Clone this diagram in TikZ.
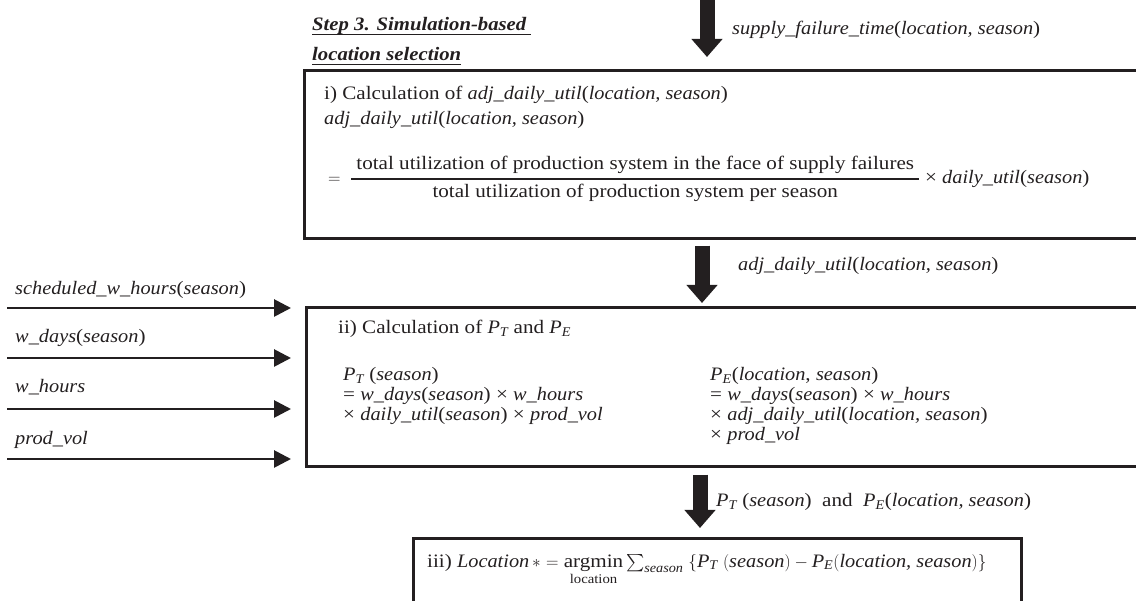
\documentclass[tikz,border=0pt]{standalone}
\usepackage{amsmath}
\usepackage{fontspec}
\setmainfont{Liberation Serif}[UprightFeatures={FakeStretch=1.11},
  ItalicFeatures={FakeStretch=1.07},
  BoldItalicFeatures={FakeStretch=1.09}]
\usepackage{tikz}
\usetikzlibrary{arrows.meta}
\usetikzlibrary{positioning}
\usetikzlibrary{calc}
\definecolor{inkk}{HTML}{231F20}
\newcommand{\Pt}{\textit{P}\ensuremath{_{\textit{T}}}}
\newcommand{\Pe}{\textit{P}\ensuremath{_{\textit{E}}}}
\newcommand{\stepul}[1]{\setbox0\hbox{#1}\rlap{\rule[-5pt]{\wd0}{1.5pt}}\box0}
\tikzset{
  txt_n/.style = {font=\fontsize{19}{20}\selectfont, inner sep=0pt,
    text=inkk},% texte normal
  lbl/.style = {txt_n, anchor=west},% etiquette
  col/.style = {txt_n, anchor=north west, align=left},% colonne de formules
  box_b/.style = {rectangle, draw=inkk, line width=2.6pt, inner sep=0pt,
    anchor=north west},% boite
  arr_big/.style = {draw=inkk, line width=15pt,
    -{Triangle[width=30pt,length=18pt]}},% grosse fleche
  arr_in/.style = {draw=inkk, line width=2.8pt,
    -{Triangle[width=17pt,length=17pt]}}% fleche d'entree
}

\begin{document}
\begin{tikzpicture}[x=1pt,y=-1pt]
\useasboundingbox (0,0) rectangle (1136,601);
\clip (0,0) rectangle (1136,601);

\node[box_b, minimum width=860pt, minimum height=168pt] (calc) at (303,69) {};
\node[box_b, minimum width=860pt, minimum height=159pt] (pcalc) at (305,306) {};
\node[box_b, minimum width=608pt, minimum height=90pt] (sel) at (412,537) {};

\node[col, font=\fontsize{19}{30}\selectfont\bfseries\itshape] (step) at (312,17)
  {\stepul{Step 3. Simulation-based\ }\\ \stepul{location selection}};

% entree du haut
\coordinate (topin) at (707,0);
\draw[arr_big, shorten >=12pt] (topin) -- (topin |- calc.north);
\node[lbl] (sfail) at (732,30) {\textit{supply\_failure\_time}(\textit{location, season})};

% i)
\node[lbl] (ititle) at (324,95) {i) Calculation of \textit{adj\_daily\_util}(\textit{location, season})};
\node[lbl] (adjdef) at (324,120) {\textit{adj\_daily\_util}(\textit{location, season})};
\node[lbl] (adjeq) at (328,179) {$=\;\genfrac{}{}{1.4pt}{0}{\kern5pt\text{total utilization of production system in the face of supply failures}\kern5pt}{\text{total utilization of production system per season}}\;\text{× \textit{daily\_util}(\textit{season})}$};

\coordinate (midx) at (702,0);
\draw[arr_big, shorten <=6pt, shorten >=3pt] (midx |- calc.south) -- (midx |- pcalc.north);
\node[lbl] (adjout) at (738,266) {\textit{adj\_daily\_util}(\textit{location, season})};

% entrees de gauche
\node[lbl] (sched) at (15,290) {\textit{scheduled\_w\_hours}(\textit{season})};
\coordinate (schedin) at (7,308);
\draw[arr_in, shorten >=14pt] (schedin) -- (schedin -| pcalc.west);
\node[lbl] (wdays) at (15,338) {\textit{w\_days}(\textit{season})};
\coordinate (wdaysin) at (7,358);
\draw[arr_in, shorten >=14pt] (wdaysin) -- (wdaysin -| pcalc.west);
\node[lbl] (whours) at (15,387) {\textit{w\_hours}};
\coordinate (whoursin) at (7,409);
\draw[arr_in, shorten >=14pt] (whoursin) -- (whoursin -| pcalc.west);
\node[lbl] (pvol) at (15,440) {\textit{prod\_vol}};
\coordinate (pvolin) at (7,459);
\draw[arr_in, shorten >=14pt] (pvolin) -- (pvolin -| pcalc.west);

% ii)
\node[lbl] (iititle) at (338,329) {ii) Calculation of \Pt\ and \Pe};
\node[col] (ptcol) at (343,367) {\Pt\ (\textit{season})\\
  = \textit{w\_days}(\textit{season}) × \textit{w\_hours}\\
  × \textit{daily\_util}(\textit{season}) × \textit{prod\_vol}};
\node[col] (pecol) at (710,367) {\Pe(\textit{location},\ \textit{season})\\
  = \textit{w\_days}(\textit{season}) × \textit{w\_hours}\\
  × \textit{adj\_daily\_util}(\textit{location, season})\\
  × \textit{prod\_vol}};

\coordinate (botx) at (700,0);
\draw[arr_big, shorten <=7pt, shorten >=9pt] (botx |- pcalc.south) -- (botx |- sel.north);
\node[lbl] (ptpe) at (716,502) {\Pt\ (\textit{season})~ and~ \Pe(\textit{location,~season})};

% iii)
\node[txt_n, anchor=base west] (argm) at (427,567) {iii) \textit{Location}$\,*$ $=$ $\mathop{\text{argmin}}\limits_{\text{location}} \sum_{\text{\itshape season}} \;\{\Pt\ (\textit{season}) - \Pe(\textit{location,~season})\}$};
\end{tikzpicture}
\end{document}
